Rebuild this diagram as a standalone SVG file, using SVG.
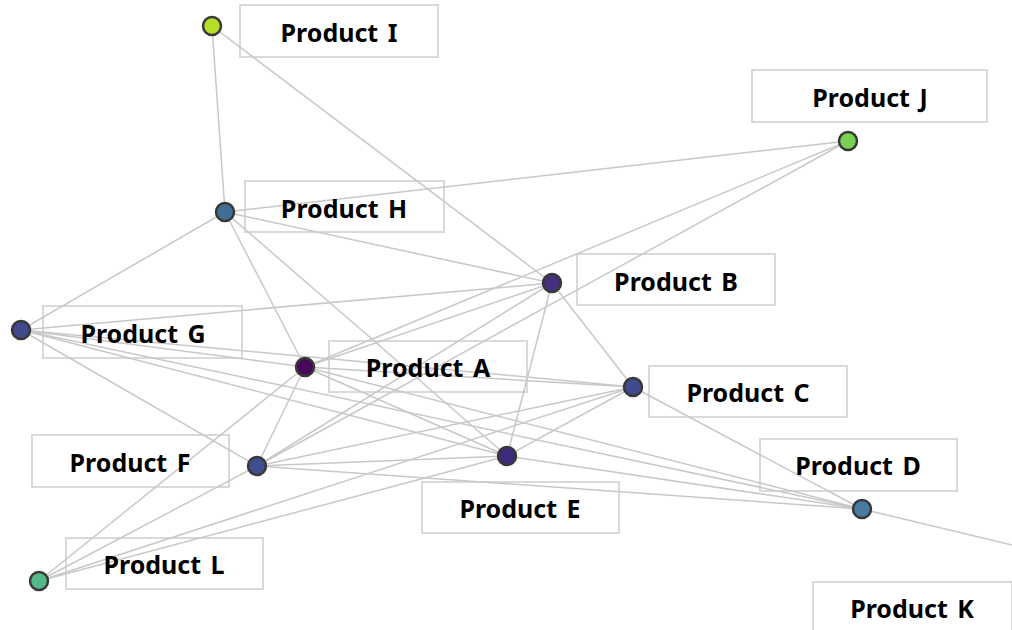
<svg xmlns="http://www.w3.org/2000/svg" width="1012" height="630" viewBox="0 0 1012 630">
<style>
.box{fill:none;stroke:#d9d9d9;stroke-width:2}
.lbl{font-family:"Noto Sans","Open Sans",sans-serif;font-weight:bold;font-size:25px;fill:#000;text-anchor:middle;word-spacing:3px}
.edges line{stroke:#c8c8c8;stroke-width:1.5}
.nd{stroke:#383838;stroke-width:2.5}
</style>
<rect width="1012" height="630" fill="#fff"/>
<g id="labels-boxes">
<rect class="box" x="240" y="5" width="198" height="52"/>
<rect class="box" x="752" y="70" width="235" height="52"/>
<rect class="box" x="245" y="181" width="199" height="51"/>
<rect class="box" x="577" y="254" width="198" height="51"/>
<rect class="box" x="43" y="306" width="199" height="52"/>
<rect class="box" x="329" y="341" width="198" height="51"/>
<rect class="box" x="649" y="366" width="198" height="51"/>
<rect class="box" x="32" y="435" width="197" height="52"/>
<rect class="box" x="422" y="482" width="197" height="51"/>
<rect class="box" x="760" y="439" width="197" height="52"/>
<rect class="box" x="66" y="538" width="197" height="51"/>
<rect class="box" x="813" y="582" width="199" height="52"/>
</g>
<g id="connectors" class="edges">
<line x1="212" y1="26" x2="225" y2="212"/>
<line x1="212" y1="26" x2="552" y2="283"/>
<line x1="848" y1="141" x2="225" y2="212"/>
<line x1="848" y1="141" x2="305" y2="367"/>
<line x1="848" y1="141" x2="257" y2="466"/>
<line x1="225" y1="212" x2="21" y2="330"/>
<line x1="225" y1="212" x2="552" y2="283"/>
<line x1="225" y1="212" x2="305" y2="367"/>
<line x1="225" y1="212" x2="507" y2="456"/>
<line x1="21" y1="330" x2="552" y2="283"/>
<line x1="21" y1="330" x2="305" y2="367"/>
<line x1="21" y1="330" x2="633" y2="387"/>
<line x1="21" y1="330" x2="507" y2="456"/>
<line x1="21" y1="330" x2="862" y2="509"/>
<line x1="21" y1="330" x2="257" y2="466"/>
<line x1="305" y1="367" x2="552" y2="283"/>
<line x1="305" y1="367" x2="633" y2="387"/>
<line x1="305" y1="367" x2="507" y2="456"/>
<line x1="305" y1="367" x2="862" y2="509"/>
<line x1="305" y1="367" x2="257" y2="466"/>
<line x1="305" y1="367" x2="39" y2="581"/>
<line x1="552" y1="283" x2="633" y2="387"/>
<line x1="552" y1="283" x2="507" y2="456"/>
<line x1="552" y1="283" x2="257" y2="466"/>
<line x1="633" y1="387" x2="257" y2="466"/>
<line x1="633" y1="387" x2="507" y2="456"/>
<line x1="633" y1="387" x2="39" y2="581"/>
<line x1="633" y1="387" x2="862" y2="509"/>
<line x1="257" y1="466" x2="507" y2="456"/>
<line x1="257" y1="466" x2="862" y2="509"/>
<line x1="257" y1="466" x2="39" y2="581"/>
<line x1="507" y1="456" x2="862" y2="509"/>
<line x1="507" y1="456" x2="39" y2="581"/>
<line x1="862" y1="509" x2="1100" y2="566"/>
</g>
<g id="node-I"><circle class="nd" cx="212" cy="26" r="9" fill="#b5de2b"/><text class="lbl" x="339" y="42">Product I</text></g>
<g id="node-J"><circle class="nd" cx="848" cy="141" r="9" fill="#7ad151"/><text class="lbl" x="870" y="107">Product J</text></g>
<g id="node-H"><circle class="nd" cx="225" cy="212" r="9" fill="#3f6f96"/><text class="lbl" x="344" y="218">Product H</text></g>
<g id="node-B"><circle class="nd" cx="552" cy="283" r="9" fill="#45307f"/><text class="lbl" x="676" y="291">Product B</text></g>
<g id="node-G"><circle class="nd" cx="21" cy="330" r="9" fill="#414a8c"/><text class="lbl" x="143" y="343">Product G</text></g>
<g id="node-A"><circle class="nd" cx="305" cy="367" r="9" fill="#45085a"/><text class="lbl" x="428" y="377">Product A</text></g>
<g id="node-C"><circle class="nd" cx="633" cy="387" r="9" fill="#3f4b8e"/><text class="lbl" x="748" y="402">Product C</text></g>
<g id="node-F"><circle class="nd" cx="257" cy="466" r="9" fill="#3e4e8f"/><text class="lbl" x="130" y="472">Product F</text></g>
<g id="node-E"><circle class="nd" cx="507" cy="456" r="9" fill="#3d2c7c"/><text class="lbl" x="520" y="518">Product E</text></g>
<g id="node-D"><circle class="nd" cx="862" cy="509" r="9" fill="#4a7ba3"/><text class="lbl" x="858" y="475">Product D</text></g>
<g id="node-L"><circle class="nd" cx="39" cy="581" r="9" fill="#54b98a"/><text class="lbl" x="164" y="574">Product L</text></g>
<g id="node-K"><text class="lbl" x="912" y="618">Product K</text></g>
</svg>
